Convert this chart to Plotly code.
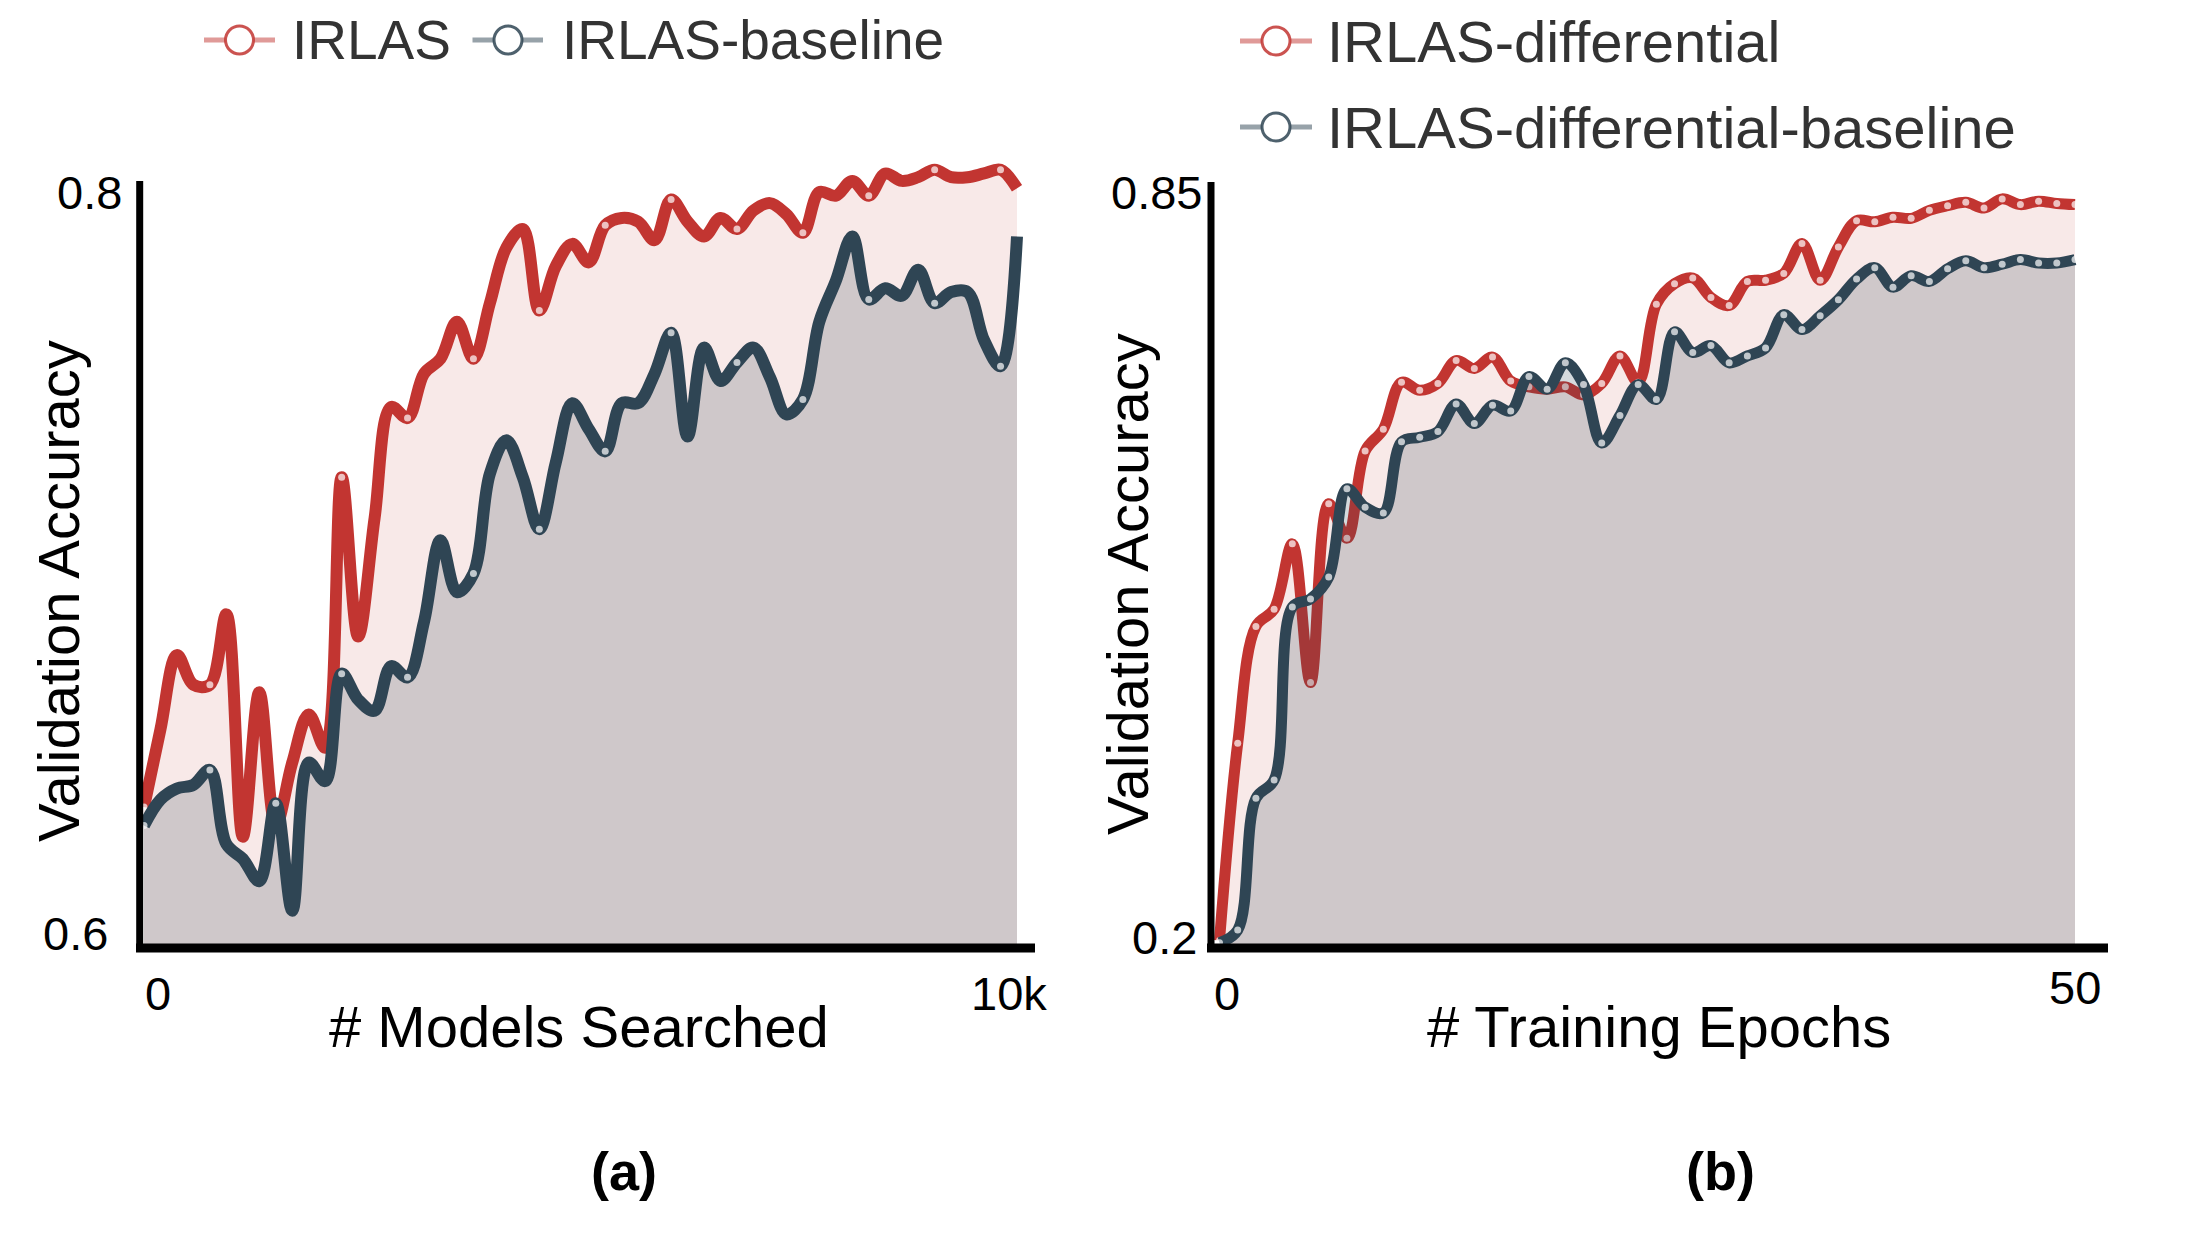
import plotly.graph_objects as go

W, H = 2193, 1233

# ---------------- data ----------------
models_idx = list(range(54))
irlas = [0.634, 0.655, 0.675, 0.667, 0.667, 0.686, 0.626, 0.665, 0.629, 0.646,
         0.659, 0.650, 0.723, 0.680, 0.712, 0.742, 0.739, 0.751, 0.755, 0.765,
         0.755, 0.770, 0.785, 0.790, 0.768, 0.780, 0.786, 0.781, 0.791, 0.793,
         0.792, 0.787, 0.798, 0.792, 0.788, 0.793, 0.790, 0.795, 0.797, 0.794,
         0.789, 0.800, 0.799, 0.803, 0.799, 0.805, 0.803, 0.804, 0.806, 0.804,
         0.804, 0.805, 0.806, 0.801]
irlas_baseline = [0.629, 0.636, 0.639, 0.640, 0.644, 0.624, 0.620, 0.614, 0.635, 0.606,
                  0.646, 0.641, 0.670, 0.663, 0.660, 0.672, 0.669, 0.684, 0.706, 0.692,
                  0.697, 0.724, 0.733, 0.723, 0.709, 0.727, 0.743, 0.736, 0.730, 0.743,
                  0.743, 0.751, 0.762, 0.734, 0.758, 0.749, 0.754, 0.758, 0.750, 0.740,
                  0.744, 0.765, 0.776, 0.788, 0.771, 0.774, 0.772, 0.779, 0.770, 0.773,
                  0.773, 0.760, 0.753, 0.788]

epochs_idx = list(range(48))
irlas_diff = [0.197, 0.369, 0.471, 0.486, 0.543, 0.422, 0.578, 0.548, 0.624, 0.643,
              0.684, 0.677, 0.683, 0.703, 0.696, 0.706, 0.685, 0.680, 0.678, 0.680,
              0.673, 0.683, 0.707, 0.684, 0.752, 0.770, 0.775, 0.758, 0.751, 0.772,
              0.773, 0.779, 0.805, 0.773, 0.802, 0.825, 0.824, 0.828, 0.827, 0.834,
              0.838, 0.841, 0.836, 0.844, 0.839, 0.842, 0.840, 0.839]
irlas_diff_baseline = [0.195, 0.206, 0.321, 0.337, 0.488, 0.495, 0.514, 0.591, 0.575, 0.570,
                       0.632, 0.636, 0.641, 0.665, 0.648, 0.664, 0.659, 0.689, 0.678, 0.701,
                       0.682, 0.631, 0.655, 0.682, 0.669, 0.728, 0.710, 0.716, 0.701, 0.707,
                       0.714, 0.743, 0.730, 0.742, 0.756, 0.774, 0.784, 0.767, 0.777, 0.772,
                       0.783, 0.790, 0.784, 0.787, 0.791, 0.788, 0.788, 0.791]

left_xtick_labels = ["0", "10k"]
left_ytick_vals = [0.6, 0.8]
left_ytick_labels = ["0.6", "0.8"]
right_xtick_labels = ["0", "50"]
right_ytick_vals = [0.2, 0.85]
right_ytick_labels = ["0.2", "0.85"]

left_legend = ["IRLAS", "IRLAS-baseline"]
right_legend = ["IRLAS-differential", "IRLAS-differential-baseline"]
x_titles = ["# Models Searched", "# Training Epochs"]
y_title = "Validation Accuracy"
panel_labels = ["(a)", "(b)"]

# ---------------- style ----------------
RED = "#c23531"
BLUE = "#2f4554"
RED_FILL = "rgba(194,53,49,0.11)"
BLUE_FILL = "rgba(47,69,84,0.20)"
FONT = "Liberation Sans, Arial, Helvetica, sans-serif"


def px(x):
    return x / W


def py(y):
    return 1 - y / H


def lin_range(p0, v0, p1, v1, lo, hi):
    k = (v1 - v0) / (p1 - p0)
    return [v0 + (lo - p0) * k, v0 + (hi - p0) * k]


LEFT_DOM = (140, 1035)
RIGHT_DOM = (1211, 2108)
Y_DOM = (155, 946)

left_xr = lin_range(144, models_idx[0], 1017, models_idx[-1], *LEFT_DOM)
right_xr = lin_range(1219.5, epochs_idx[0], 2075, epochs_idx[-1], *RIGHT_DOM)
left_yr = lin_range(933, left_ytick_vals[0], 192, left_ytick_vals[1], Y_DOM[1], Y_DOM[0])
right_yr = lin_range(937, right_ytick_vals[0], 192, right_ytick_vals[1], Y_DOM[1], Y_DOM[0])

fig = go.Figure()


def add_series(x, y, color, width, sizes, fillcolor, name, xa, ya):
    fig.add_trace(go.Scatter(
        x=x, y=y, mode="lines+markers", name=name,
        line=dict(color=color, width=width, shape="spline", smoothing=1.0),
        marker=dict(size=sizes, color="white", line=dict(width=0)),
        fill="tozeroy", fillcolor=fillcolor,
        xaxis=xa, yaxis=ya, showlegend=False, hoverinfo="skip"))


left_sizes = [7 if i % 4 == 0 else 0 for i in range(len(models_idx))]
right_sizes = [7] * len(epochs_idx)

add_series(models_idx, irlas, RED, 12, left_sizes, RED_FILL, left_legend[0], "x", "y")
add_series(models_idx, irlas_baseline, BLUE, 12, left_sizes, BLUE_FILL, left_legend[1], "x", "y")
add_series(epochs_idx, irlas_diff, RED, 11, right_sizes, RED_FILL, right_legend[0], "x2", "y2")
add_series(epochs_idx, irlas_diff_baseline, BLUE, 11, right_sizes, BLUE_FILL, right_legend[1], "x2", "y2")

ax_common = dict(showgrid=False, zeroline=False, showticklabels=False, showline=False,
                 ticks="", fixedrange=True)
fig.update_layout(
    xaxis=dict(domain=[px(LEFT_DOM[0]), px(LEFT_DOM[1])], range=left_xr, anchor="y", **ax_common),
    yaxis=dict(domain=[py(Y_DOM[1]), py(Y_DOM[0])], range=left_yr, anchor="x", **ax_common),
    xaxis2=dict(domain=[px(RIGHT_DOM[0]), px(RIGHT_DOM[1])], range=right_xr, anchor="y2", **ax_common),
    yaxis2=dict(domain=[py(Y_DOM[1]), py(Y_DOM[0])], range=right_yr, anchor="x2", **ax_common),
)

shapes = []
ann = []


def axis_lines(yx, ytop, xl, xr):
    shapes.append(dict(type="line", xref="paper", yref="paper", layer="above",
                       x0=px(yx), x1=px(yx), y0=py(ytop), y1=py(952),
                       line=dict(color="black", width=7)))
    shapes.append(dict(type="line", xref="paper", yref="paper", layer="above",
                       x0=px(xl), x1=px(xr), y0=py(948), y1=py(948),
                       line=dict(color="black", width=9)))


axis_lines(139.7, 181, 136, 1035)
axis_lines(1211, 182, 1207, 2108)


def text(x, y, s, size, color="black", xanchor="center", bold=False, angle=0,
         xref="paper", yref="paper", xshift=0):
    ann.append(dict(x=x, y=y, xref=xref, yref=yref, text=("<b>%s</b>" % s) if bold else s,
                    showarrow=False, xanchor=xanchor, yanchor="middle", textangle=angle,
                    xshift=xshift, font=dict(family=FONT, size=size, color=color)))


# y tick labels
text(px(110), left_ytick_vals[0], left_ytick_labels[0], 47, xanchor="right", yref="y")
text(px(124), left_ytick_vals[1], left_ytick_labels[1], 47, xanchor="right", yref="y")
text(px(1199), right_ytick_vals[0], right_ytick_labels[0], 47, xanchor="right", yref="y2")
text(px(1204), right_ytick_vals[1], right_ytick_labels[1], 47, xanchor="right", yref="y2")

# x tick labels
text(models_idx[0], py(993), left_xtick_labels[0], 47, xref="x", xshift=14)
text(models_idx[-1], py(993), left_xtick_labels[1], 47, xref="x", xshift=-8)
text(epochs_idx[0], py(993), right_xtick_labels[0], 47, xref="x2", xshift=7)
text(epochs_idx[-1], py(988), right_xtick_labels[1], 47, xref="x2", xshift=0)

# axis titles
text(px(579), py(1026), x_titles[0], 58)
text(px(1659), py(1026), x_titles[1], 58)
text(px(58), py(591), y_title, 58, angle=-90)
text(px(1128), py(584), y_title, 58, angle=-90)

# panel labels
text(px(624), py(1171), panel_labels[0], 54, bold=True)
text(px(1720), py(1171), panel_labels[1], 54, bold=True)


# manual legends
def legend_item(lx0, lx1, cx, cy, tx, label, rgb, size):
    shapes.append(dict(type="line", xref="paper", yref="paper", layer="above",
                       x0=px(lx0), x1=px(lx1), y0=py(cy), y1=py(cy),
                       line=dict(color="rgba(%s,0.5)" % rgb, width=5)))
    r = 14
    shapes.append(dict(type="circle", xref="paper", yref="paper", layer="above",
                       x0=px(cx - r), x1=px(cx + r), y0=py(cy + r), y1=py(cy - r),
                       fillcolor="white", line=dict(color="rgba(%s,0.85)" % rgb, width=3)))
    text(px(tx), py(cy), label, size, color="#333333", xanchor="left")


legend_item(204, 275, 239.5, 40, 290, left_legend[0], "194,53,49", 55)
legend_item(472.5, 543, 508, 40, 560, left_legend[1], "47,69,84", 55)
legend_item(1240, 1312, 1276, 41, 1325, right_legend[0], "194,53,49", 58)
legend_item(1240, 1312, 1276, 127, 1325, right_legend[1], "47,69,84", 58)

fig.update_layout(
    width=W, height=H, margin=dict(l=0, r=0, t=0, b=0),
    paper_bgcolor="white", plot_bgcolor="white",
    shapes=shapes, annotations=ann, showlegend=False,
    font=dict(family=FONT),
)

fig.write_html("out.html", config={"displayModeBar": False},
               post_script="document.body.style.margin='0';document.body.style.overflow='hidden';")
